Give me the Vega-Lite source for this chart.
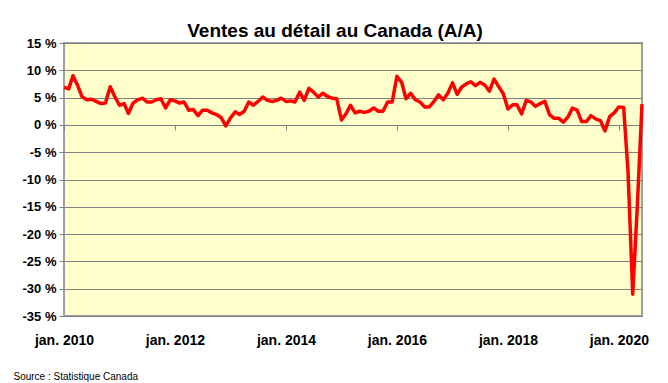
{
  "$schema": "https://vega.github.io/schema/vega-lite/v6.json",
  "width": 578,
  "height": 273,
  "autosize": "none",
  "padding": {"left": 64, "top": 43, "right": 26, "bottom": 67},
  "background": "white",
  "title": {
    "text": "Ventes au détail au Canada (A/A)",
    "font": "Liberation Sans",
    "fontSize": 19,
    "fontWeight": "bold",
    "color": "black",
    "anchor": "middle",
    "dx": -18,
    "dy": 23,
    "baseline": "alphabetic",
    "offset": 4
  },
  "config": {
    "view": {"fill": "#ffffcc", "stroke": "#a0a0a0", "strokeWidth": 2},
    "axis": {"labelFont": "Liberation Sans", "titleFont": "Liberation Sans"}
  },
  "data": {
    "values": [
      {"date": "2010/01/01", "v": 6.9}, {"date": "2010/02/01", "v": 6.6}, {"date": "2010/03/01", "v": 9.0}, {"date": "2010/04/01", "v": 7.2},
      {"date": "2010/05/01", "v": 5.1}, {"date": "2010/06/01", "v": 4.6}, {"date": "2010/07/01", "v": 4.7}, {"date": "2010/08/01", "v": 4.3},
      {"date": "2010/09/01", "v": 3.9}, {"date": "2010/10/01", "v": 4.0}, {"date": "2010/11/01", "v": 7.0}, {"date": "2010/12/01", "v": 5.2},
      {"date": "2011/01/01", "v": 3.6}, {"date": "2011/02/01", "v": 3.9}, {"date": "2011/03/01", "v": 2.1}, {"date": "2011/04/01", "v": 4.0},
      {"date": "2011/05/01", "v": 4.6}, {"date": "2011/06/01", "v": 4.9}, {"date": "2011/07/01", "v": 4.2}, {"date": "2011/08/01", "v": 4.2},
      {"date": "2011/09/01", "v": 4.6}, {"date": "2011/10/01", "v": 4.8}, {"date": "2011/11/01", "v": 3.1}, {"date": "2011/12/01", "v": 4.6},
      {"date": "2012/01/01", "v": 4.4}, {"date": "2012/02/01", "v": 4.0}, {"date": "2012/03/01", "v": 4.2}, {"date": "2012/04/01", "v": 2.7},
      {"date": "2012/05/01", "v": 2.8}, {"date": "2012/06/01", "v": 1.7}, {"date": "2012/07/01", "v": 2.7}, {"date": "2012/08/01", "v": 2.7},
      {"date": "2012/09/01", "v": 2.2}, {"date": "2012/10/01", "v": 1.9}, {"date": "2012/11/01", "v": 1.3}, {"date": "2012/12/01", "v": -0.2},
      {"date": "2013/01/01", "v": 1.3}, {"date": "2013/02/01", "v": 2.4}, {"date": "2013/03/01", "v": 1.9}, {"date": "2013/04/01", "v": 2.5},
      {"date": "2013/05/01", "v": 4.2}, {"date": "2013/06/01", "v": 3.6}, {"date": "2013/07/01", "v": 4.3}, {"date": "2013/08/01", "v": 5.1},
      {"date": "2013/09/01", "v": 4.5}, {"date": "2013/10/01", "v": 4.3}, {"date": "2013/11/01", "v": 4.5}, {"date": "2013/12/01", "v": 4.9},
      {"date": "2014/01/01", "v": 4.3}, {"date": "2014/02/01", "v": 4.4}, {"date": "2014/03/01", "v": 4.2}, {"date": "2014/04/01", "v": 6.0},
      {"date": "2014/05/01", "v": 4.5}, {"date": "2014/06/01", "v": 6.7}, {"date": "2014/07/01", "v": 6.0}, {"date": "2014/08/01", "v": 5.1},
      {"date": "2014/09/01", "v": 5.8}, {"date": "2014/10/01", "v": 5.2}, {"date": "2014/11/01", "v": 4.9}, {"date": "2014/12/01", "v": 4.8},
      {"date": "2015/01/01", "v": 0.9}, {"date": "2015/02/01", "v": 2.1}, {"date": "2015/03/01", "v": 3.6}, {"date": "2015/04/01", "v": 2.2},
      {"date": "2015/05/01", "v": 2.5}, {"date": "2015/06/01", "v": 2.3}, {"date": "2015/07/01", "v": 2.5}, {"date": "2015/08/01", "v": 3.1},
      {"date": "2015/09/01", "v": 2.5}, {"date": "2015/10/01", "v": 2.5}, {"date": "2015/11/01", "v": 4.2}, {"date": "2015/12/01", "v": 4.2},
      {"date": "2016/01/01", "v": 8.9}, {"date": "2016/02/01", "v": 7.8}, {"date": "2016/03/01", "v": 4.8}, {"date": "2016/04/01", "v": 5.8},
      {"date": "2016/05/01", "v": 4.6}, {"date": "2016/06/01", "v": 4.2}, {"date": "2016/07/01", "v": 3.3}, {"date": "2016/08/01", "v": 3.3},
      {"date": "2016/09/01", "v": 4.3}, {"date": "2016/10/01", "v": 5.5}, {"date": "2016/11/01", "v": 4.6}, {"date": "2016/12/01", "v": 5.8},
      {"date": "2017/01/01", "v": 7.7}, {"date": "2017/02/01", "v": 5.6}, {"date": "2017/03/01", "v": 6.9}, {"date": "2017/04/01", "v": 7.5},
      {"date": "2017/05/01", "v": 7.9}, {"date": "2017/06/01", "v": 7.2}, {"date": "2017/07/01", "v": 7.8}, {"date": "2017/08/01", "v": 7.3},
      {"date": "2017/09/01", "v": 6.2}, {"date": "2017/10/01", "v": 8.4}, {"date": "2017/11/01", "v": 7.0}, {"date": "2017/12/01", "v": 5.7},
      {"date": "2018/01/01", "v": 2.9}, {"date": "2018/02/01", "v": 3.7}, {"date": "2018/03/01", "v": 3.7}, {"date": "2018/04/01", "v": 2.0},
      {"date": "2018/05/01", "v": 4.5}, {"date": "2018/06/01", "v": 4.2}, {"date": "2018/07/01", "v": 3.4}, {"date": "2018/08/01", "v": 3.9},
      {"date": "2018/09/01", "v": 4.3}, {"date": "2018/10/01", "v": 1.9}, {"date": "2018/11/01", "v": 1.2}, {"date": "2018/12/01", "v": 1.2},
      {"date": "2019/01/01", "v": 0.5}, {"date": "2019/02/01", "v": 1.5}, {"date": "2019/03/01", "v": 3.1}, {"date": "2019/04/01", "v": 2.7},
      {"date": "2019/05/01", "v": 0.6}, {"date": "2019/06/01", "v": 0.6}, {"date": "2019/07/01", "v": 1.7}, {"date": "2019/08/01", "v": 1.1},
      {"date": "2019/09/01", "v": 0.8}, {"date": "2019/10/01", "v": -1.1}, {"date": "2019/11/01", "v": 1.5}, {"date": "2019/12/01", "v": 2.2},
      {"date": "2020/01/01", "v": 3.3}, {"date": "2020/02/01", "v": 3.2}, {"date": "2020/03/01", "v": -8.5}, {"date": "2020/04/01", "v": -31.0},
      {"date": "2020/05/01", "v": -15.0}, {"date": "2020/06/01", "v": 3.8}
    ]
  },
  "layer": [
    {
      "mark": {"type": "line", "color": "#ff0000", "strokeWidth": 3.5, "strokeJoin": "round", "clip": false},
      "encoding": {
        "x": {
          "field": "date",
          "type": "temporal",
          "scale": {"domain": ["2010/01/01", "2020/06/01"]},
          "axis": {
            "values": ["2010/01/01", "2012/01/01", "2014/01/01", "2016/01/01", "2018/01/01", "2020/01/01"],
            "labelExpr": "'jan. ' + timeFormat(datum.value, '%Y')",
            "labelFontSize": 14,
            "labelFontWeight": "bold",
            "labelColor": "black",
            "labelPadding": 17,
            "labelFlush": false,
            "labelOverlap": false,
            "ticks": false,
            "domain": false,
            "grid": false,
            "title": "Source : Statistique Canada",
            "titleX": -51,
            "titleY": 60,
            "titleAlign": "left",
            "titleBaseline": "middle",
            "titleFontSize": 10,
            "titleFontWeight": "normal",
            "titleColor": "black"
          }
        },
        "y": {
          "field": "v",
          "type": "quantitative",
          "scale": {"domain": [-35, 15], "nice": false},
          "axis": {
            "values": [-35, -30, -25, -20, -15, -10, -5, 0, 5, 10, 15],
            "labelExpr": "datum.value + ' %'",
            "labelFontSize": 13,
            "labelFontWeight": "bold",
            "labelColor": "black",
            "labelPadding": 3,
            "labelOverlap": false,
            "tickSize": 5,
            "tickColor": "#808080",
            "domain": false,
            "grid": true,
            "gridColor": "#808080",
            "gridOpacity": 1,
            "title": null
          }
        }
      }
    },
    {
      "mark": {"type": "line", "opacity": 0},
      "encoding": {
        "x": {
          "field": "date",
          "type": "temporal",
          "axis": {
            "orient": "bottom",
            "offset": -191,
            "values": ["2010/01/01", "2012/01/01", "2014/01/01", "2016/01/01", "2018/01/01", "2020/01/01"],
            "labels": false,
            "ticks": true,
            "tickSize": 5,
            "tickColor": "#808080",
            "domain": false,
            "grid": false,
            "title": null
          }
        },
        "y": {"field": "v", "type": "quantitative", "axis": null}
      }
    }
  ],
  "resolve": {"axis": {"x": "independent", "y": "independent"}}
}
